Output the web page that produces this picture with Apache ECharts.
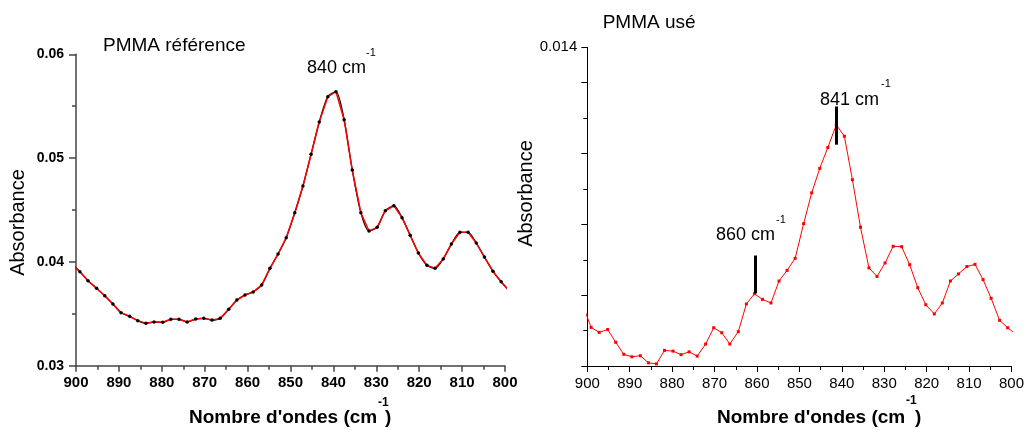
<!DOCTYPE html>
<html><head><meta charset="utf-8">
<script src="https://cdn.jsdelivr.net/npm/echarts@6/dist/echarts.min.js"></script>
<style>html,body{margin:0;padding:0;background:#fff}#c{width:1027px;height:430px}</style>
</head><body><div id="c"></div>
<script>
// wavenumbers (cm-1), first and last are just outside the axis range
const wavenumbers = [901.0, 899.1, 897.2, 895.2, 893.3, 891.4, 889.5, 887.5, 885.6, 883.7, 881.8, 879.8, 877.9, 876.0, 874.1, 872.1, 870.2, 868.3, 866.4, 864.4, 862.5, 860.6, 858.7, 856.7, 854.8, 852.9, 851.0, 849.0, 847.1, 845.2, 843.3, 841.3, 839.4, 837.5, 835.6, 833.6, 831.7, 829.8, 827.9, 825.9, 824.0, 822.1, 820.2, 818.2, 816.3, 814.4, 812.5, 810.5, 808.6, 806.7, 804.8, 802.8, 800.9, 799.0];
const absReference = [0.0398, 0.03906, 0.03819, 0.03745, 0.03674, 0.03594, 0.03511, 0.03476, 0.03434, 0.03408, 0.03421, 0.03418, 0.03447, 0.03447, 0.03421, 0.0345, 0.03456, 0.0344, 0.03456, 0.03543, 0.03633, 0.03681, 0.0371, 0.03778, 0.03938, 0.04076, 0.04233, 0.04474, 0.04731, 0.05037, 0.05348, 0.05592, 0.0564, 0.0537, 0.04885, 0.04474, 0.04298, 0.04333, 0.04493, 0.04541, 0.04426, 0.04256, 0.04086, 0.03967, 0.03938, 0.04028, 0.04172, 0.04285, 0.04285, 0.04182, 0.04047, 0.03909, 0.03809, 0.0372];
const absUsed = [0.0067, 0.00609, 0.00595, 0.00603, 0.00567, 0.00533, 0.00526, 0.00529, 0.00509, 0.00506, 0.00544, 0.00542, 0.00532, 0.0054, 0.00528, 0.00562, 0.00608, 0.00594, 0.00562, 0.00597, 0.00675, 0.00704, 0.00688, 0.00678, 0.0074, 0.0077, 0.00804, 0.00902, 0.00989, 0.01058, 0.01117, 0.01181, 0.01149, 0.01026, 0.00892, 0.00777, 0.00753, 0.00791, 0.00838, 0.00837, 0.00786, 0.00721, 0.00673, 0.00647, 0.00678, 0.0074, 0.0076, 0.00781, 0.00787, 0.00744, 0.00691, 0.00629, 0.00608, 0.0059];
// right-chart y ticks, in thousandths: labelled majors and unlabelled minors
const rightYMajors = [6, 8, 10, 12, 14];
const rightYMinors = [7, 9, 11, 13];
// peak markers on the used-PMMA spectrum: [wavenumber, from, to]
const peakMarks = [[860.4, 0.00705, 0.00812], [841.2, 0.01125, 0.01233]];

const FONT = "'Liberation Sans', Arial, sans-serif";
const inRange = (w) => w <= 900 && w >= 800;
const refData = wavenumbers.map((w, i) => inRange(w) ? [w, absReference[i]] : {value: [w, absReference[i]], symbol: 'none'});
const usedData = wavenumbers.map((w, i) => inRange(w) ? [w, absUsed[i] * 1000] : {value: [w, absUsed[i] * 1000], symbol: 'none'});
const refSmooth = wavenumbers.map((w, i) => [w, absReference[i]]);

function xAxisCfg(gi, bold, color, width, fs, margin) {
  return {
    type: 'value', gridIndex: gi, min: 800, max: 900, interval: 10, inverse: true,
    axisLine: {show: true, onZero: false, lineStyle: {color: color, width: width}},
    axisTick: {show: true, length: 6, lineStyle: {color: color, width: width}},
    minorTick: {show: true, splitNumber: 2, length: 4, lineStyle: {color: color, width: width}},
    splitLine: {show: false}, minorSplitLine: {show: false},
    axisLabel: {fontFamily: FONT, fontSize: fs, fontWeight: bold ? 'bold' : 'normal', color: '#000', margin: margin}
  };
}

function t(text, x, y, size, opts) {
  opts = opts || {};
  return {type: 'text', x: x, y: y, rotation: opts.rot || 0, silent: true,
    style: {text: text, fontFamily: FONT, fontSize: size, fontWeight: opts.bold ? 'bold' : 'normal',
      fill: '#000', align: opts.align || 'left', verticalAlign: 'middle'}};
}

const option = {
  animation: false,
  backgroundColor: '#fff',
  grid: [
    {left: 76, top: 54.3, width: 429, height: 311.4},
    {left: 587.3, top: 47.3, width: 427.7, height: 318.7}
  ],
  xAxis: [
    xAxisCfg(0, true, '#444', 1.5, 15, 10),
    xAxisCfg(1, false, '#000', 1, 15, 10)
  ],
  yAxis: [
    {type: 'value', gridIndex: 0, min: 0.03, max: 0.06, interval: 0.01, position: 'left',
      axisLine: {show: true, onZero: false, lineStyle: {color: '#444', width: 1.5}},
      axisTick: {show: true, length: 7, lineStyle: {color: '#444', width: 1.5}},
      minorTick: {show: true, splitNumber: 2, length: 4, lineStyle: {color: '#444', width: 1.5}},
      splitLine: {show: false}, minorSplitLine: {show: false},
      axisLabel: {fontFamily: FONT, fontSize: 14, fontWeight: 'bold', color: '#000', margin: 12,
        formatter: v => v.toFixed(2)}},
    // right chart: values in thousandths so the ticks land on whole numbers
    {type: 'value', gridIndex: 1, min: 4, max: 14, interval: 2, position: 'left',
      axisLine: {show: true, onZero: false, lineStyle: {color: '#000', width: 1}},
      axisTick: {show: true, length: 6, lineStyle: {color: '#000', width: 1}},
      minorTick: {show: true, splitNumber: 2, length: 4, lineStyle: {color: '#000', width: 1}},
      splitLine: {show: false}, minorSplitLine: {show: false},
      axisLabel: {fontFamily: FONT, fontSize: 15, color: '#000', margin: 10,
        formatter: v => rightYMajors.indexOf(v) >= 0 ? (v / 1000).toFixed(3) : ''}}
  ],
  dataZoom: [{type: 'inside', yAxisIndex: 1, startValue: 5, endValue: 14, filterMode: 'none', disabled: true, zoomLock: true}],
  series: [
    {type: 'line', xAxisIndex: 0, yAxisIndex: 0, data: refSmooth, smooth: 0.25, showSymbol: false,
      lineStyle: {color: '#000', width: 1.3}, z: 2},
    {type: 'line', xAxisIndex: 0, yAxisIndex: 0, data: refData, smooth: false,
      symbol: 'circle', symbolSize: 3.5, itemStyle: {color: '#000'},
      lineStyle: {color: '#ff0000', width: 1.5}, z: 3},
    {type: 'line', xAxisIndex: 1, yAxisIndex: 1, data: usedData, smooth: false,
      symbol: 'rect', symbolSize: 3, itemStyle: {color: '#ff0000'},
      lineStyle: {color: '#ff0000', width: 1}, z: 3,
      markLine: {silent: true, symbol: ['none', 'none'], label: {show: false},
        lineStyle: {color: '#000', width: 3, type: 'solid'},
        data: peakMarks.map(m => [{coord: [m[0], m[1] * 1000]}, {coord: [m[0], m[2] * 1000]}])}}
  ],
  graphic: [
    t('PMMA référence', 103, 46, 19),
    t('PMMA usé', 602.7, 22.7, 19),
    t('840 cm', 307, 67.7, 18),
    t('-1', 366, 52.7, 11),
    t('841 cm', 820, 99.7, 18),
    t('-1', 881, 84, 11),
    t('860 cm', 716, 235.4, 18),
    t('-1', 776, 220, 11),
    t("Nombre d'ondes (cm", 189, 418, 19, {bold: true}),
    t('-1', 378, 403, 12, {bold: true}),
    t(')', 385, 418, 19, {bold: true}),
    t("Nombre d'ondes (cm", 717, 418, 19, {bold: true}),
    t('-1', 906, 400.5, 12, {bold: true}),
    t(')', 915, 418, 19, {bold: true}),
    t('Absorbance', 18.5, 222.5, 20, {rot: Math.PI / 2, align: 'center'}),
    t('Absorbance', 526.5, 193.5, 20, {rot: Math.PI / 2, align: 'center'})
  ]
};
const chart = echarts.init(document.getElementById('c'), null, {renderer: 'canvas'});
chart.setOption(option);
</script>
</body></html>
